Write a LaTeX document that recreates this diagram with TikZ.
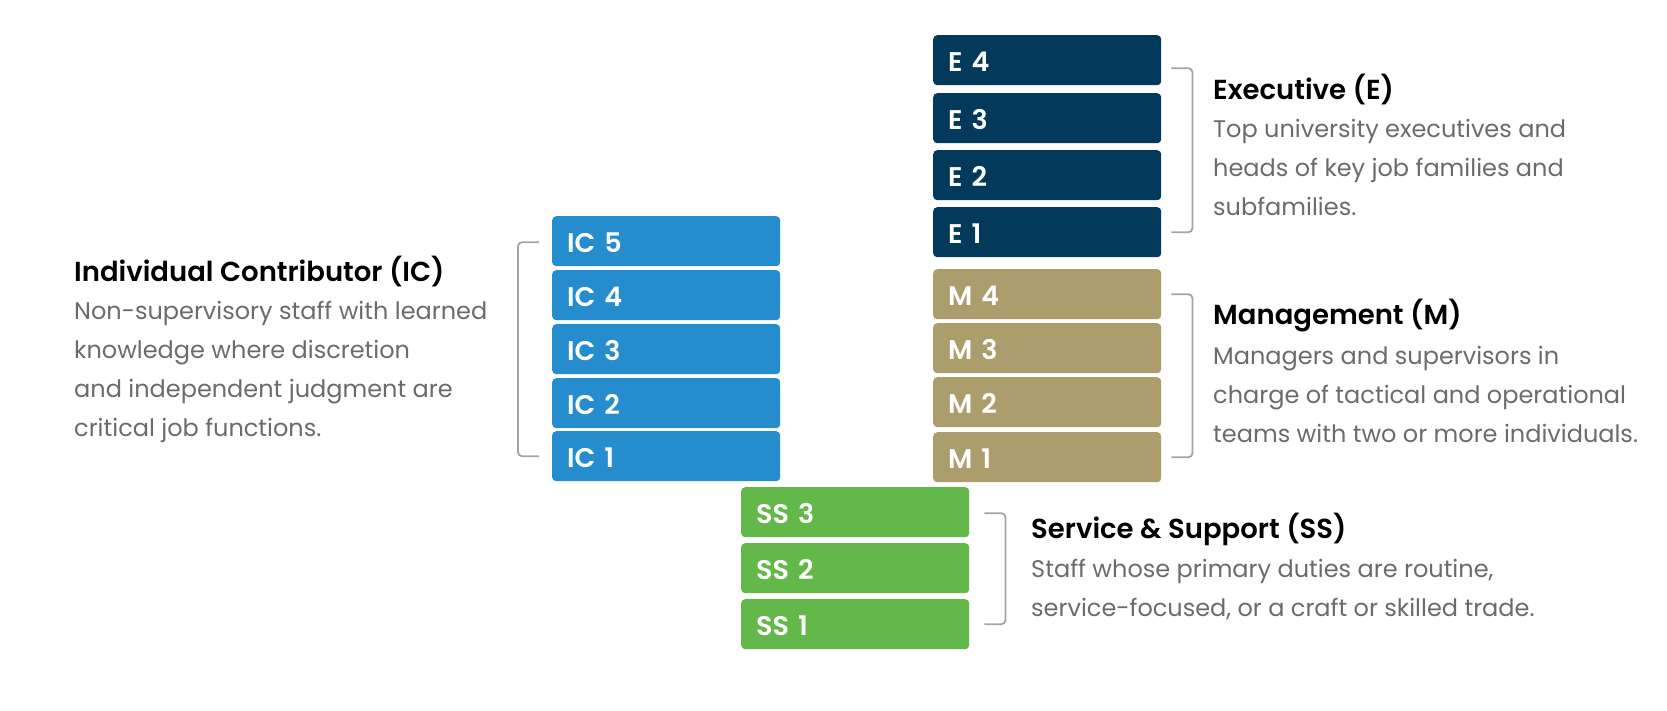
\documentclass[tikz,border=0pt]{standalone}
\usepackage{fontspec}
\setmainfont{Poppins}[BoldFont={Poppins SemiBold}]
\usetikzlibrary{calc}
\definecolor{execc}{HTML}{033A5C}
\definecolor{mgmtc}{HTML}{AC9D6D}
\definecolor{icc}{HTML}{258DCD}
\definecolor{ssc}{HTML}{62B94A}
\definecolor{descc}{HTML}{6B6B6B}
\definecolor{brkc}{HTML}{A4A4A4}
\begin{document}
\begin{tikzpicture}[x=1pt,y=-1pt,
  lvl/.style={draw=none, rounded corners=4pt, minimum height=50pt, inner ysep=0pt,
    inner xsep=15pt, text width=198pt, align=left, anchor=north west, text=white,
    text height=22pt, text depth=0pt,
    font=\fontsize{27}{27}\selectfont\bfseries},
  ttl/.style={anchor=base west, inner sep=0pt, font=\fontsize{27.5}{30}\selectfont\bfseries, text=black},
  dsc/.style={anchor=base west, inner sep=0pt, font=\fontsize{24}{39}\selectfont, text=descc},
  brk/.style={draw=brkc, line width=1.8pt, rounded corners=4pt}]
\useasboundingbox (0,0) rectangle (1667,710);
% Executive
\node[lvl, fill=execc] (E4) at (933,35) {E 4};
\node[lvl, fill=execc] (E3) at (933,93) {E 3};
\node[lvl, fill=execc] (E2) at (933,150) {E 2};
\node[lvl, fill=execc] (E1) at (933,207) {E 1};
% Management
\node[lvl, fill=mgmtc] (M4) at (933,269) {M 4};
\node[lvl, fill=mgmtc] (M3) at (933,323) {M 3};
\node[lvl, fill=mgmtc] (M2) at (933,377) {M 2};
\node[lvl, fill=mgmtc] (M1) at (933,432) {M 1};
% Individual contributor
\node[lvl, fill=icc] (IC5) at (552,216) {IC 5};
\node[lvl, fill=icc] (IC4) at (552,270) {IC 4};
\node[lvl, fill=icc] (IC3) at (552,324) {IC 3};
\node[lvl, fill=icc] (IC2) at (552,378) {IC 2};
\node[lvl, fill=icc] (IC1) at (552,431) {IC 1};
% Service & support
\node[lvl, fill=ssc] (SS3) at (741,487) {SS 3};
\node[lvl, fill=ssc] (SS2) at (741,543) {SS 2};
\node[lvl, fill=ssc] (SS1) at (741,599) {SS 1};
% Brackets
\draw[brk] ($(E4.east)+(10,8)$) -| ($(E1.east)+(31,0)$) -- ($(E1.east)+(10,0)$);
\draw[brk] ($(M4.east)+(10,0)$) -| ($(M1.east)+(31,0)$) -- ($(M1.east)+(10,0)$);
\draw[brk] ($(IC5.west)+(-13,1)$) -| ($(IC1.west)+(-34,0)$) -- ($(IC1.west)+(-13,0)$);
\draw[brk] ($(SS3.east)+(15,1)$) -| ($(SS1.east)+(36,0)$) -- ($(SS1.east)+(15,0)$);
% Texts
\node[ttl] (Et) at (1213,99) {Executive (E)};
\node[dsc] (Ed) at (1213,137) {\begin{tabular}[t]{@{}l@{}}Top university executives and\\heads of key job families and\\subfamilies.\end{tabular}};
\node[ttl] (Mt) at (1213,324) {Management (M)};
\node[dsc] (Md) at (1213,364) {\begin{tabular}[t]{@{}l@{}}Managers and supervisors in\\charge of tactical and operational\\teams with two or more individuals.\end{tabular}};
\node[ttl] (ICt) at (74,281) {Individual Contributor (IC)};
\node[dsc] (ICd) at (74,319) {\begin{tabular}[t]{@{}l@{}}Non-supervisory staff with learned\\knowledge where discretion\\and independent judgment are\\critical job functions.\end{tabular}};
\node[ttl] (SSt) at (1031,538) {Service \& Support (SS)};
\node[dsc] (SSd) at (1031,577) {\begin{tabular}[t]{@{}l@{}}Staff whose primary duties are routine,\\service-focused, or a craft or skilled trade.\end{tabular}};
\end{tikzpicture}
\end{document}
